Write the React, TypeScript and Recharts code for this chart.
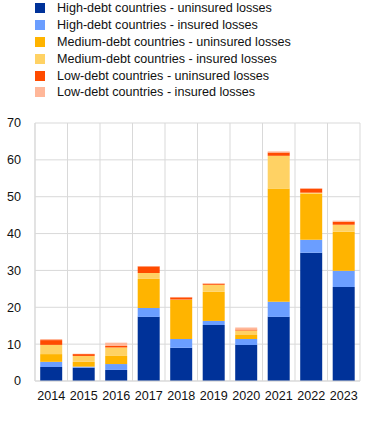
import React from "react";
import { BarChart, Bar, XAxis, YAxis, CartesianGrid } from "recharts";

const years = ["2014", "2015", "2016", "2017", "2018", "2019", "2020", "2021", "2022", "2023"];
const highUninsured = [3.8, 3.6, 3.0, 17.4, 9.0, 15.2, 9.8, 17.4, 34.8, 25.5];
const highInsured = [1.4, 0.3, 1.6, 2.4, 2.4, 1.1, 1.6, 4.1, 3.5, 4.4];
const mediumUninsured = [2.1, 1.3, 2.2, 7.9, 10.6, 7.9, 1.1, 30.7, 12.5, 10.6];
const mediumInsured = [2.5, 1.6, 2.3, 1.6, 0.1, 1.9, 1.2, 8.9, 0.3, 1.9];
const lowUninsured = [1.3, 0.5, 0.4, 1.8, 0.6, 0.3, 0.3, 0.9, 1.1, 0.8];
const lowInsured = [0.3, 0.1, 0.9, 0.1, 0.1, 0.1, 0.5, 0.3, 0.1, 0.3];
const yTicks = [0, 10, 20, 30, 40, 50, 60, 70];

const series = [
  { key: "hu", name: "High-debt countries - uninsured losses", values: highUninsured, color: "#003299" },
  { key: "hi", name: "High-debt countries - insured losses", values: highInsured, color: "#6B9EFF" },
  { key: "mu", name: "Medium-debt countries - uninsured losses", values: mediumUninsured, color: "#FFB400" },
  { key: "mi", name: "Medium-debt countries - insured losses", values: mediumInsured, color: "#FFD264" },
  { key: "lu", name: "Low-debt countries - uninsured losses", values: lowUninsured, color: "#FF4B00" },
  { key: "li", name: "Low-debt countries - insured losses", values: lowInsured, color: "#FFB799" },
];

const data = years.map((y, i) => {
  const row: any = { year: y };
  series.forEach((s) => (row[s.key] = s.values[i]));
  return row;
});

const font = "'Liberation Sans', Arial, sans-serif";
const fs = 12.6;

export default function App() {
  return (
    <div style={{ position: "absolute", left: 0, top: 0, width: 371, height: 431, background: "#fff", fontFamily: font }}>
      <div style={{ position: "absolute", left: 35, top: 0 }}>
        {series.map((s) => (
          <div key={s.key} style={{ display: "flex", alignItems: "center", height: 16.8, fontSize: fs, color: "#111" }}>
            <span style={{ display: "inline-block", width: 10, height: 10, background: s.color, marginRight: 12 }} />
            <span>{s.name}</span>
          </div>
        ))}
      </div>
      <BarChart
        width={371}
        height={431}
        data={data}
        margin={{ top: 123, right: 11, bottom: 20, left: 0 }}
        barCategoryGap="16%"
        style={{ position: "absolute", left: 0, top: 0 }}
      >
        <CartesianGrid
          stroke="#d9d9d9"
          strokeWidth={1}
          verticalCoordinatesGenerator={({ offset }: any) =>
            years.map((_, i) => offset.left + (i * offset.width) / years.length).concat([offset.left + offset.width])
          }
        />
        <XAxis
          dataKey="year"
          axisLine={{ stroke: "#d9d9d9" }}
          tickLine={false}
          tick={{ fontSize: fs, fill: "#111", fontFamily: font }}
          height={30}
          tickMargin={4}
        />
        <YAxis
          domain={[0, 70]}
          ticks={yTicks}
          axisLine={{ stroke: "#d9d9d9" }}
          tickLine={false}
          tick={{ fontSize: fs, fill: "#111", fontFamily: font }}
          width={35}
          tickMargin={8}
          interval={0}
        />
        {series.map((s) => (
          <Bar key={s.key} dataKey={s.key} stackId="a" fill={s.color} isAnimationActive={false} />
        ))}
      </BarChart>
    </div>
  );
}
